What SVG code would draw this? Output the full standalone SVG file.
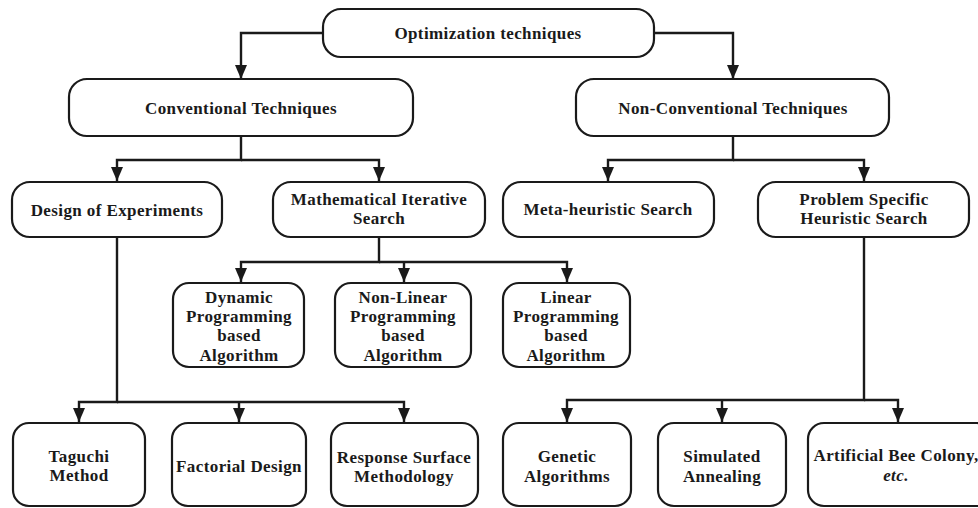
<svg xmlns="http://www.w3.org/2000/svg" width="978" height="508" viewBox="0 0 978 508">
<style>
.box{fill:#fff;stroke:#1a1a1a;stroke-width:2.2}
.t{font-family:"Liberation Serif","Times New Roman",serif;font-weight:bold;font-size:17px;letter-spacing:0.4px;fill:#1a1a1a;text-anchor:middle}
.it{font-style:italic}
.c{fill:none;stroke:#1a1a1a;stroke-width:2.4}
</style>
<defs>
<marker id="arr" viewBox="0 0 14 12" refX="14" refY="6" markerWidth="14" markerHeight="12" orient="auto" markerUnits="userSpaceOnUse">
<path d="M0,0 L14,6 L0,12 z" fill="#1a1a1a"/>
</marker>
</defs>
<rect width="978" height="508" fill="#fff"/>
<g id="connectors">
<path class="c" d="M323,33 H241 V79" marker-end="url(#arr)"/>
<path class="c" d="M654,33 H733 V79" marker-end="url(#arr)"/>
<path class="c" d="M241,136 V160 H117 V181" marker-end="url(#arr)"/>
<path class="c" d="M241,160 H379 V181" marker-end="url(#arr)"/>
<path class="c" d="M733,136 V160 H608 V181" marker-end="url(#arr)"/>
<path class="c" d="M733,160 H864 V181" marker-end="url(#arr)"/>
<path class="c" d="M379,237 V262 H241 V282" marker-end="url(#arr)"/>
<path class="c" d="M379,262 H567 V282" marker-end="url(#arr)"/>
<path class="c" d="M404,262 V282" marker-end="url(#arr)"/>
<path class="c" d="M117,237 V402 H79 V422" marker-end="url(#arr)"/>
<path class="c" d="M117,402 H404 V422" marker-end="url(#arr)"/>
<path class="c" d="M239,402 V422" marker-end="url(#arr)"/>
<path class="c" d="M864,237 V400 H567 V422" marker-end="url(#arr)"/>
<path class="c" d="M864,400 H898 V422" marker-end="url(#arr)"/>
<path class="c" d="M722,400 V422" marker-end="url(#arr)"/>
</g>
<g id="n-opt"><rect class="box" x="323" y="9" width="331" height="48" rx="18"/><text class="t" x="488" y="39">Optimization techniques</text></g>
<g id="n-conv"><rect class="box" x="69" y="79" width="344" height="57" rx="18"/><text class="t" x="241" y="114">Conventional Techniques</text></g>
<g id="n-nonconv"><rect class="box" x="576" y="79" width="313" height="57" rx="18"/><text class="t" x="733" y="114">Non-Conventional Techniques</text></g>
<g id="n-doe"><rect class="box" x="12" y="182" width="210" height="55" rx="18"/><text class="t" x="117" y="216">Design of Experiments</text></g>
<g id="n-mis"><rect class="box" x="273" y="182" width="212" height="55" rx="18"/><text class="t" x="379" y="205">Mathematical Iterative</text><text class="t" x="379" y="224">Search</text></g>
<g id="n-meta"><rect class="box" x="503" y="182" width="211" height="55" rx="18"/><text class="t" x="608" y="215">Meta-heuristic Search</text></g>
<g id="n-psh"><rect class="box" x="758" y="182" width="211" height="55" rx="18"/><text class="t" x="864" y="205">Problem Specific</text><text class="t" x="864" y="224">Heuristic Search</text></g>
<g id="n-dp"><rect class="box" x="173" y="283" width="131" height="84" rx="16"/><text class="t" x="239" y="303">Dynamic</text><text class="t" x="239" y="322">Programming</text><text class="t" x="239" y="341">based</text><text class="t" x="239" y="361">Algorithm</text></g>
<g id="n-nlp"><rect class="box" x="335" y="283" width="136" height="84" rx="16"/><text class="t" x="403" y="303">Non-Linear</text><text class="t" x="403" y="322">Programming</text><text class="t" x="403" y="341">based</text><text class="t" x="403" y="361">Algorithm</text></g>
<g id="n-lp"><rect class="box" x="503" y="283" width="127" height="84" rx="16"/><text class="t" x="566" y="303">Linear</text><text class="t" x="566" y="322">Programming</text><text class="t" x="566" y="341">based</text><text class="t" x="566" y="361">Algorithm</text></g>
<g id="n-tag"><rect class="box" x="13" y="423" width="132" height="83" rx="16"/><text class="t" x="79" y="462">Taguchi</text><text class="t" x="79" y="481">Method</text></g>
<g id="n-fd"><rect class="box" x="172" y="423" width="134" height="83" rx="16"/><text class="t" x="239" y="472">Factorial Design</text></g>
<g id="n-rsm"><rect class="box" x="331" y="423" width="147" height="83" rx="16"/><text class="t" x="404" y="463">Response Surface</text><text class="t" x="404" y="482">Methodology</text></g>
<g id="n-ga"><rect class="box" x="503" y="423" width="128" height="83" rx="16"/><text class="t" x="567" y="462">Genetic</text><text class="t" x="567" y="482">Algorithms</text></g>
<g id="n-sa"><rect class="box" x="658" y="423" width="128" height="83" rx="16"/><text class="t" x="722" y="462">Simulated</text><text class="t" x="722" y="482">Annealing</text></g>
<g id="n-abc"><rect class="box" x="808" y="423" width="185" height="83" rx="16"/><text class="t" x="896" y="461">Artificial Bee Colony,</text><text class="t it" x="896" y="481">etc.</text></g>
</svg>
